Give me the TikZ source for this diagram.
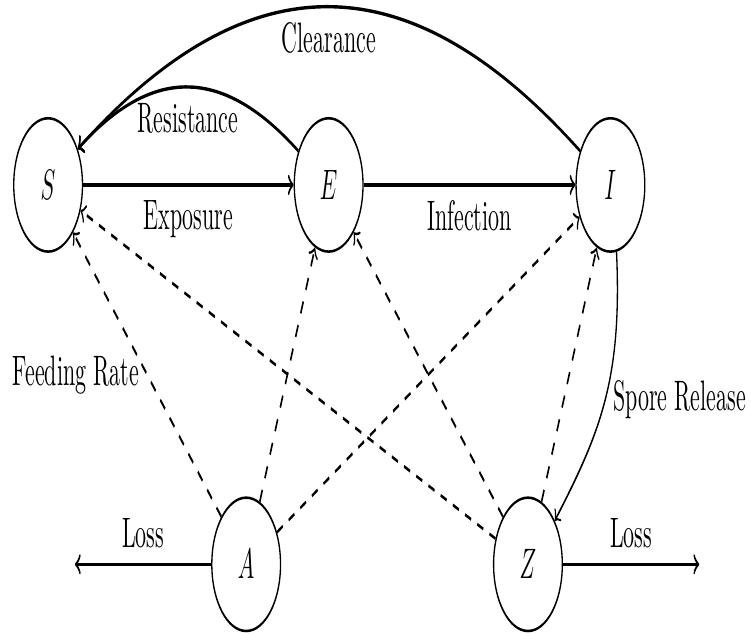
\documentclass[tikz,border=0pt]{standalone}
\usepackage{amsmath}
\usepackage{amssymb}
\usepackage{tikz}

\begin{document}
\begin{tikzpicture}[line width=0.6pt]
        \useasboundingbox (-0.77,-7.18) rectangle (11.25,2.96);
        \begin{scope}[transform canvas={yscale=1.94},
            comp/.style={draw, circle, minimum size=1.1cm, inner sep=0pt},
            flow/.style={->, thick},
            feed/.style={->, dashed, line width=0.7pt}]
        \node[comp] (S) at (0,0) {$S$};
        \node[comp] (E) at (4.49,0) {$E$};
        \node[comp] (I) at (9,0) {$I$};
        \node[comp] (A) at (3.17,-3.13) {$A$};
        \node[comp] (Z) at (7.68,-3.13) {$Z$};
        \coordinate (lossA) at (0.43,-3.13);
        \coordinate (lossZ) at (10.42,-3.13);
        \draw[flow] (S) -- node[below]{Exposure} (E);
        \draw[flow] (E) -- node[below]{Infection} (I);
        \draw[flow] (E.150) to[out=150,in=30] node[below]{Resistance} (S.32);
        \draw[flow] (I.150) to[out=150,in=30] node[below]{Clearance} (S.32);
        \draw[->, semithick] (I.-80) to[out=-85,in=45,looseness=1.1] node[right]{Spore Release} (Z.40);
        \draw[flow] (A) -- node[above]{Loss} (lossA);
        \draw[flow] (Z) -- node[above]{Loss} (lossZ);
        \foreach \src/\dst in {A/E, A/I, Z/S, Z/E, Z/I}
            \draw[feed] (\src) -- (\dst);
        \draw[feed] (A) -- node[left]{Feeding Rate} (S);
        \end{scope}
    \end{tikzpicture}
\end{document}
